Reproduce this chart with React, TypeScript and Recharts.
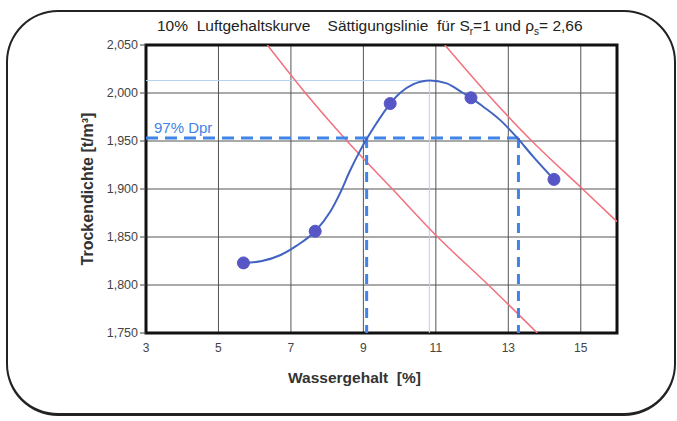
import React from 'react';
import { ComposedChart, Line, XAxis, YAxis, CartesianGrid, ReferenceArea, Label } from 'recharts';

const xTicks = [3, 5, 7, 9, 11, 13, 15];
const yTicks = [1.75, 1.8, 1.85, 1.9, 1.95, 2.0, 2.05];

const measured = [
  { w: 5.69, d: 1.823 },
  { w: 7.67, d: 1.856 },
  { w: 9.74, d: 1.989 },
  { w: 11.97, d: 1.995 },
  { w: 14.26, d: 1.91 },
];

const proctorCurve = [
  { w: 5.69, d: 1.823 },
  { w: 6.2, d: 1.825 },
  { w: 6.7, d: 1.831 },
  { w: 7.16, d: 1.841 },
  { w: 7.67, d: 1.856 },
  { w: 8.08, d: 1.876 },
  { w: 8.36, d: 1.896 },
  { w: 8.63, d: 1.919 },
  { w: 8.91, d: 1.94 },
  { w: 9.09, d: 1.952 },
  { w: 9.37, d: 1.969 },
  { w: 9.74, d: 1.989 },
  { w: 10.01, d: 2.0 },
  { w: 10.37, d: 2.009 },
  { w: 10.84, d: 2.013 },
  { w: 11.3, d: 2.01 },
  { w: 11.75, d: 2.0 },
  { w: 11.97, d: 1.995 },
  { w: 12.3, d: 1.986 },
  { w: 12.77, d: 1.972 },
  { w: 13.23, d: 1.954 },
  { w: 13.68, d: 1.934 },
  { w: 14.26, d: 1.91 },
];

const airVoid10 = [
  { w: 6.35, d: 2.05 },
  { w: 7.4, d: 2.0 },
  { w: 8.55, d: 1.95 },
  { w: 9.8, d: 1.9 },
  { w: 11.05, d: 1.85 },
  { w: 12.45, d: 1.8 },
  { w: 13.8, d: 1.75 },
];

const saturation = [
  { w: 11.25, d: 2.05 },
  { w: 12.4, d: 2.0 },
  { w: 13.65, d: 1.95 },
  { w: 15.05, d: 1.9 },
  { w: 16, d: 1.866 },
];

const maxDryH = [{ w: 3, d: 2.013 }, { w: 10.82, d: 2.013 }];
const maxDryV = [{ w: 10.82, d: 2.013 }, { w: 10.82, d: 1.75 }];
const dpr97H = [{ w: 3, d: 1.953 }, { w: 13.28, d: 1.953 }];
const dpr97Left = [{ w: 9.09, d: 1.953 }, { w: 9.09, d: 1.75 }];
const dpr97Right = [{ w: 13.28, d: 1.953 }, { w: 13.28, d: 1.75 }];

const FONT = '"Liberation Sans", Arial, sans-serif';
const DASH_BLUE = '#3f84e6';
const LIGHT_BLUE = '#b4d2f2';
const RED = '#f2707e';

const fmtY = (v: number) => v.toFixed(3).replace('.', ',');

const XTitle = (props: any) => {
  const vb = props.viewBox || {};
  const cx = vb.x + vb.width / 2 - 27;
  return (
    <text x={cx} y={vb.y + vb.height + 20} textAnchor="middle" fontFamily={FONT} fontSize={15.5} fontWeight="bold" fill="#333" style={{ whiteSpace: 'pre' }}>
      Wassergehalt  [%]
    </text>
  );
};

const YTitle = (props: any) => {
  const vb = props.viewBox || {};
  const cx = vb.x + 1;
  const cy = vb.y + vb.height / 2;
  return (
    <text x={cx} y={cy} transform={`rotate(-90 ${cx} ${cy})`} textAnchor="middle" dominantBaseline="central" fontFamily={FONT} fontSize={16} fontWeight="bold" fill="#333">
      Trockendichte [t/m³]
    </text>
  );
};

export default function App() {
  return (
    <div style={{ position: 'absolute', left: 0, top: 0, width: 677, height: 421, background: '#fff', overflow: 'hidden' }}>
      <div style={{ position: 'absolute', left: 6, top: 10, width: 670, height: 406, border: '2px solid #222', borderBottomWidth: 3, borderRadius: 52, boxSizing: 'border-box' }} />
      <div style={{ position: 'absolute', left: 157, top: 17, fontFamily: FONT, fontSize: 15.5, color: '#222', whiteSpace: 'pre', lineHeight: '18px' }}>
        {'10%  Luftgehaltskurve    Sättigungslinie  für S'}
        <sub style={{ fontSize: 10 }}>r</sub>
        {'=1 und ρ'}
        <sub style={{ fontSize: 10 }}>s</sub>
        {'= 2,66'}
      </div>
      <div style={{ position: 'absolute', left: 154, top: 119, fontFamily: FONT, fontSize: 15, color: DASH_BLUE, whiteSpace: 'pre' }}>97% Dpr</div>
      <div style={{ position: 'absolute', left: 0, top: 0 }}>
        <ComposedChart width={677} height={421} margin={{ top: 45, right: 60, bottom: 58, left: 86 }}>
          <CartesianGrid stroke="#555" strokeWidth={1} />
          <XAxis
            dataKey="w"
            type="number"
            domain={[3, 16]}
            ticks={xTicks}
            allowDataOverflow
            height={30}
            tickLine={false}
            tickSize={6}
            tickMargin={4}
            axisLine={false}
            tick={{ fontSize: 12, fill: '#444', fontFamily: FONT }}
          >
            <Label content={XTitle} />
          </XAxis>
          <YAxis
            dataKey="d"
            type="number"
            domain={[1.75, 2.05]}
            ticks={yTicks}
            allowDataOverflow
            width={60}
            tickFormatter={fmtY}
            tickSize={6}
            tickMargin={2}
            axisLine={false}
            tickLine={{ stroke: '#444' }}
            tick={{ fontSize: 12.5, fill: '#444', fontFamily: FONT }}
          >
            <Label content={YTitle} />
          </YAxis>
          <Line data={maxDryH} dataKey="d" stroke={LIGHT_BLUE} strokeWidth={1} dot={false} isAnimationActive={false} />
          <Line data={maxDryV} dataKey="d" stroke={LIGHT_BLUE} strokeWidth={1} dot={false} isAnimationActive={false} />
          <Line data={airVoid10} dataKey="d" type="monotone" stroke={RED} strokeWidth={1.5} dot={false} isAnimationActive={false} />
          <Line data={saturation} dataKey="d" type="monotone" stroke={RED} strokeWidth={1.5} dot={false} isAnimationActive={false} />
          <Line data={dpr97H} dataKey="d" stroke={DASH_BLUE} strokeWidth={3} strokeDasharray="12 7" dot={false} isAnimationActive={false} />
          <Line data={dpr97Left} dataKey="d" stroke={DASH_BLUE} strokeWidth={3} strokeDasharray="10 7" dot={false} isAnimationActive={false} />
          <Line data={dpr97Right} dataKey="d" stroke={DASH_BLUE} strokeWidth={3} strokeDasharray="10 7" dot={false} isAnimationActive={false} />
          <Line data={proctorCurve} dataKey="d" type="monotone" stroke="#4263c2" strokeWidth={2} dot={false} isAnimationActive={false} />
          <Line data={measured} dataKey="d" stroke="none" dot={{ r: 6, fill: '#5656c6', stroke: '#5656c6', strokeWidth: 1 }} isAnimationActive={false} />
          <ReferenceArea x1={3} x2={16} y1={1.75} y2={2.05} fill="none" stroke="#111" strokeWidth={3} ifOverflow="visible" />
        </ComposedChart>
      </div>
    </div>
  );
}
